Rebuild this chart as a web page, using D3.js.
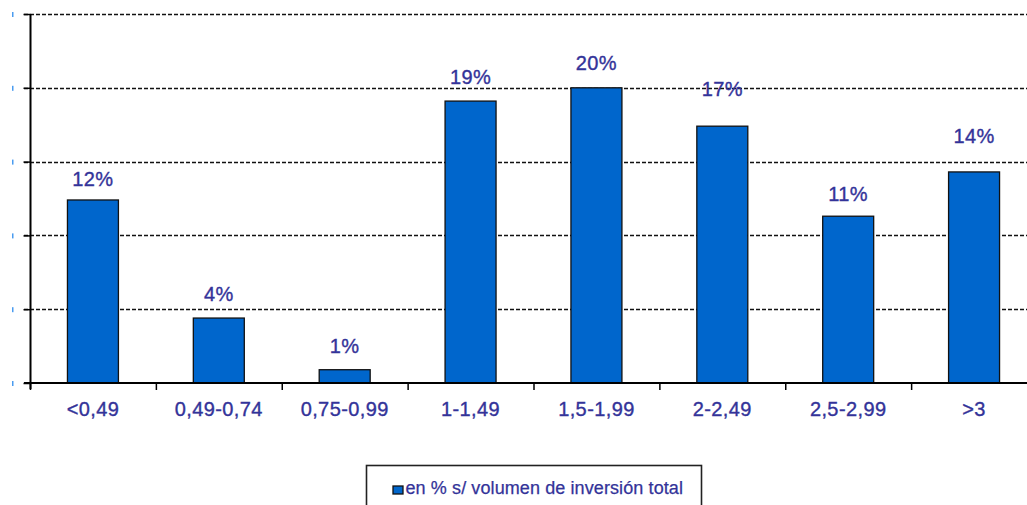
<!DOCTYPE html>
<html>
<head>
<meta charset="utf-8">
<script src="https://cdn.jsdelivr.net/npm/d3@7/dist/d3.min.js"></script>
<style>
  html, body { margin: 0; padding: 0; background: #fff; }
  svg { display: block; }
  text { font-family: "Liberation Sans", Arial, sans-serif; }
</style>
</head>
<body>
<svg id="chart" width="1027" height="505"></svg>
<script>
// ---- data ----
const categories = ["<0,49", "0,49-0,74", "0,75-0,99", "1-1,49", "1,5-1,99", "2-2,49", "2,5-2,99", ">3"];
const values = [12.4, 4.4, 0.9, 19.1, 20.0, 17.4, 11.3, 14.3];
const valueLabels = ["12%", "4%", "1%", "19%", "20%", "17%", "11%", "14%"];
const yTicks = [0, 5, 10, 15, 20, 25];
const legendLabel = "en % s/ volumen de inversión total";

// ---- layout (label nudges in px above bar top) ----
const labelLift = [14, 17.5, 17, 17.5, 17.5, 30, 15.5, 28.5];

const svg = d3.select("#chart");
const textColor = "#333399";
const barColor = "#0066CC";

const x = d3.scaleBand().domain(categories).range([30, 1037]).padding(0);
const y = d3.scaleLinear().domain([0, 25]).range([383, 14]);
const barW = x.bandwidth() * 0.405;

// gridlines (dashed)
svg.append("g").selectAll("line")
  .data(yTicks.filter(d => d > 0))
  .join("line")
  .attr("x1", 24).attr("x2", 1027)
  .attr("y1", d => Math.round(y(d)) + 0.5).attr("y2", d => Math.round(y(d)) + 0.5)
  .attr("stroke", "#111").attr("stroke-width", 1.3)
  .attr("stroke-dasharray", "4,2");

// small faint tick-label marks at the far left
svg.append("g").selectAll("rect")
  .data(yTicks)
  .join("rect")
  .attr("x", 12).attr("y", d => y(d) - 2)
  .attr("width", 1.5).attr("height", 5)
  .attr("fill", "#4a9cf0");

// bars
svg.append("g").selectAll("rect")
  .data(categories)
  .join("rect")
  .attr("x", d => x(d) + (x.bandwidth() - barW) / 2)
  .attr("y", (d, i) => y(values[i]))
  .attr("width", barW)
  .attr("height", (d, i) => y(0) - y(values[i]))
  .attr("fill", barColor)
  .attr("stroke", "#111").attr("stroke-width", 1.3);

// y axis
const yAxis = svg.append("g")
  .attr("transform", "translate(30.5,0)")
  .call(d3.axisLeft(y).tickValues(yTicks).tickSize(7).tickFormat(""));
yAxis.select(".domain").attr("stroke", "#000").attr("stroke-width", 2).attr("d", `M0,${y(25)}V${y(0) + 6}`);
yAxis.selectAll(".tick line").attr("stroke", "#000").attr("stroke-width", 1.5);

// x axis baseline + category boundary ticks
const boundaries = categories.map(c => x(c)).concat([x(categories[categories.length - 1]) + x.bandwidth()]);
svg.append("line")
  .attr("x1", 24).attr("x2", 1027)
  .attr("y1", y(0)).attr("y2", y(0))
  .attr("stroke", "#000").attr("stroke-width", 2);
svg.append("g").selectAll("line")
  .data(boundaries)
  .join("line")
  .attr("x1", d => d + 0.5).attr("x2", d => d + 0.5)
  .attr("y1", y(0)).attr("y2", y(0) + 7)
  .attr("stroke", "#000").attr("stroke-width", 1.5);

// category labels
svg.append("g").selectAll("text")
  .data(categories)
  .join("text")
  .attr("x", d => x(d) + x.bandwidth() / 2)
  .attr("y", 415.5)
  .attr("text-anchor", "middle")
  .attr("font-size", 20)
  .attr("letter-spacing", 0.4)
  .attr("fill", textColor)
  .attr("stroke", textColor).attr("stroke-width", 0.35)
  .text(d => d);

// value labels
svg.append("g").selectAll("text")
  .data(categories)
  .join("text")
  .attr("x", d => x(d) + x.bandwidth() / 2)
  .attr("y", (d, i) => y(values[i]) - labelLift[i])
  .attr("text-anchor", "middle")
  .attr("font-size", 20)
  .attr("letter-spacing", 0.4)
  .attr("fill", textColor)
  .attr("stroke", textColor).attr("stroke-width", 0.35)
  .text((d, i) => valueLabels[i]);

// legend
const lg = svg.append("g");
lg.append("rect")
  .attr("x", 366.5).attr("y", 465.5)
  .attr("width", 335).attr("height", 60)
  .attr("fill", "#fff").attr("stroke", "#222").attr("stroke-width", 1.6);
lg.append("rect")
  .attr("x", 393).attr("y", 486)
  .attr("width", 10).attr("height", 8)
  .attr("fill", barColor).attr("stroke", "#111").attr("stroke-width", 1.3);
lg.append("text")
  .attr("x", 405.5).attr("y", 493.5)
  .attr("font-size", 18)
  .attr("letter-spacing", 0.1)
  .attr("fill", textColor)
  .attr("stroke", textColor).attr("stroke-width", 0.25)
  .text(legendLabel);
</script>
</body>
</html>
